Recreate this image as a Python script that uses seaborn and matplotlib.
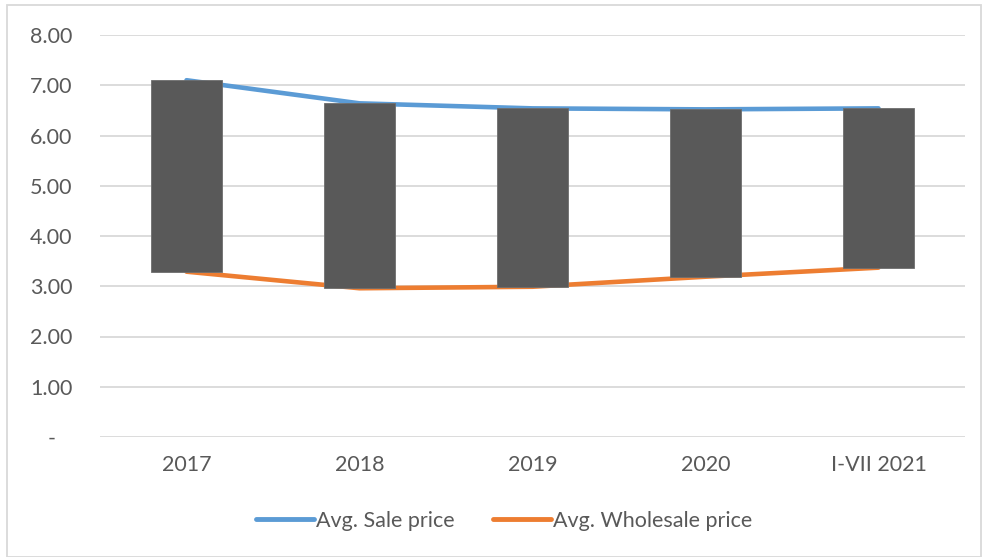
import matplotlib
matplotlib.use("Agg")
import matplotlib.pyplot as plt
import seaborn as sns
import pandas as pd
from matplotlib.patches import Rectangle
from matplotlib.lines import Line2D

categories = ["2017", "2018", "2019", "2020", "I-VII 2021"]
sale_price = [7.10, 6.64, 6.54, 6.52, 6.54]
wholesale_price = [3.29, 2.96, 2.99, 3.19, 3.37]
y_ticks = [0, 1, 2, 3, 4, 5, 6, 7, 8]
y_tick_labels = ["-   ", "1.00", "2.00", "3.00", "4.00", "5.00", "6.00", "7.00", "8.00"]

sns.set_theme(style="white")
plt.rcParams["font.family"] = ["Lato", "DejaVu Sans"]

df = pd.DataFrame({
    "cat": categories * 2,
    "x": list(range(len(categories))) * 2,
    "price": sale_price + wholesale_price,
    "series": ["Avg. Sale price"] * len(categories) + ["Avg. Wholesale price"] * len(categories),
})

fig = plt.figure(figsize=(9.82, 5.57), dpi=100)
ax = fig.add_axes([100 / 982, 1 - 437 / 557, 865 / 982, 402 / 557])

sns.lineplot(data=df, x="x", y="price", hue="series",
             palette={"Avg. Sale price": "#5B9BD5", "Avg. Wholesale price": "#ED7D31"},
             linewidth=3.3, ax=ax, legend=False, zorder=2, solid_capstyle="round")

# up-down bars
lows = [min(a, b) for a, b in zip(sale_price, wholesale_price)]
heights = [abs(a - b) for a, b in zip(sale_price, wholesale_price)]
ax.bar(range(len(categories)), heights, bottom=lows, width=0.41,
       color="#595959", edgecolor="#6e6e6e", linewidth=0.6, zorder=3)

ax.set_xlim(-0.5, len(categories) - 0.5)
ax.set_ylim(0, 8)
ax.set_yticks(y_ticks)
ax.set_yticklabels(y_tick_labels)
ax.set_xticks(range(len(categories)))
ax.set_xticklabels(categories)
ax.set_xlabel("")
ax.set_ylabel("")
ax.grid(axis="y", color="#D9D9D9", linewidth=1.3, zorder=0)
ax.set_axisbelow(True)
for s in ax.spines.values():
    s.set_visible(False)
ax.tick_params(axis="both", length=0, labelsize=15.5, labelcolor="#595959")
ax.tick_params(axis="y", pad=20)
ax.tick_params(axis="x", pad=13)

handles = [Line2D([0], [0], color="#5B9BD5", lw=3.5, solid_capstyle="round"),
           Line2D([0], [0], color="#ED7D31", lw=3.5, solid_capstyle="round")]
leg = fig.legend(handles, ["Avg. Sale price", "Avg. Wholesale price"],
                 loc="center", bbox_to_anchor=(504 / 982, 1 - 521 / 557), ncol=2,
                 frameon=False, fontsize=15.5, handlelength=2.7, handletextpad=0.1,
                 columnspacing=1.75)
for t in leg.get_texts():
    t.set_color("#595959")

fig.patches.append(Rectangle((7 / 982, 0), 974 / 982, 1 - 5 / 557, transform=fig.transFigure,
                             fill=False, edgecolor="#D9D9D9", linewidth=1.3))

fig.savefig("out.png", dpi=100)
